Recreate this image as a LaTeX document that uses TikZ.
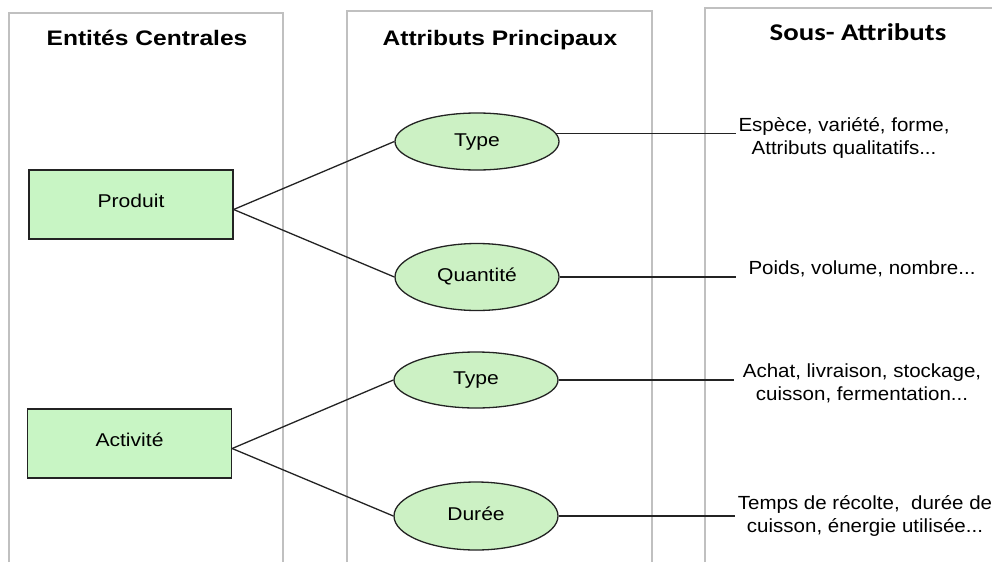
\documentclass[tikz,border=0pt]{standalone}
\usepackage{fontspec}
\setmainfont{Liberation Sans}
\newfontfamily\hdfont{Liberation Sans}[FakeStretch=1.17]
\newfontfamily\hdcfont{Carlito}[FakeStretch=1.2]
\newfontfamily\ndfont{Liberation Sans}[FakeStretch=1.14]
\newfontfamily\sbfont{Liberation Sans}[FakeStretch=1.08]
\usetikzlibrary{shapes.geometric}
\definecolor{colgray}{RGB}{192,192,192}
\definecolor{boxgreen}{RGB}{200,245,196}
\definecolor{ellgreen}{RGB}{204,241,196}
\definecolor{inkdark}{RGB}{35,35,35}
\tikzset{
  colline/.style={draw=colgray, line width=1.1pt},
  hdr/.style={anchor=base, inner sep=0pt, font=\hdfont\bfseries\fontsize{21pt}{25pt}\selectfont, text=black},
  hdrc/.style={anchor=base, inner sep=0pt, font=\hdcfont\bfseries\fontsize{24pt}{28pt}\selectfont, text=black},
  entbox/.style={draw=inkdark, line width=1.3pt, fill=boxgreen, rectangle,
    minimum width=204pt, minimum height=69pt, inner sep=0pt,
    text height=13.5pt, text depth=8pt,
    font=\ndfont\fontsize{18.5pt}{22pt}\selectfont},
  attrell/.style={draw=inkdark, line width=1.3pt, fill=ellgreen, ellipse,
    minimum width=164pt, inner sep=0pt, text height=13pt, text depth=4pt,
    font=\ndfont\fontsize{18.5pt}{22pt}\selectfont},
  subtxt/.style={inner sep=0pt, align=center,
    font=\sbfont\fontsize{19pt}{23pt}\selectfont},
  conn/.style={draw=inkdark, line width=1.3pt}
}
\begin{document}
\begin{tikzpicture}[x=1pt,y=-1pt]
\useasboundingbox (0,0) rectangle (992,562);
\fill[white] (0,0) rectangle (992,562);
% columns
\draw[colline] (9,562) -- (9,13) -- (283,13) -- (283,562);
\draw[colline] (347,562) -- (347,11) -- (652,11) -- (652,562);
\draw[colline] (705,562) -- (705,8) -- (992,8);
% headers
\node[hdr] (h1) at (147,45) {Entités Centrales};
\node[hdr] (h2) at (500,45) {Attributs Principaux};
\node[hdrc] (h3) at (858,40) {Sous- Attributs};
% entities
\node[entbox] (prod) at (131,204.5) {Produit};
\node[entbox] (act) at (129.5,443.5) {Activité};
% attributes
\node[attrell, minimum height=57pt] (typeA) at (477,141.5) {Type};
\node[attrell, minimum height=67pt] (qte) at (477,277) {Quantité};
\node[attrell, minimum height=56pt] (typeB) at (476,380) {Type};
\node[attrell, minimum height=68pt] (dur) at (476,516) {Durée};
% sub-attributes
\node[subtxt] (subA) at (844,137.5) {Espèce, variété, forme,\\Attributs qualitatifs...};
\node[subtxt, anchor=base] (subB) at (862,274) {Poids, volume, nombre...};
\node[subtxt] (subC) at (862,383) {Achat, livraison, stockage,\\cuisson, fermentation...};
\node[subtxt] (subD) at (865,516) {Temps de récolte,\ \ durée de\\cuisson, énergie utilisée...};
% connector ends
\coordinate (pA) at ([yshift=-5pt]prod.east);
\coordinate (aA) at ([yshift=-5pt]act.east);
\coordinate (eA) at (736,133);
\coordinate (eB) at (736,273);
\coordinate (eC) at (734,382);
\coordinate (eD) at (735,513);
% connectors
\draw[conn] (pA) -- (typeA.west);
\draw[conn] (pA) -- (qte.west);
\draw[conn] (aA) -- (typeB.west);
\draw[conn] (aA) -- (dur.west);
\draw[conn] (typeA.6) -- (typeA.6 -| eA);
\draw[conn] (qte.east) -- (qte.east -| eB);
\draw[conn] (typeB.east) -- (typeB.east -| eC);
\draw[conn] (dur.east) -- (dur.east -| eD);
\end{tikzpicture}
\end{document}
